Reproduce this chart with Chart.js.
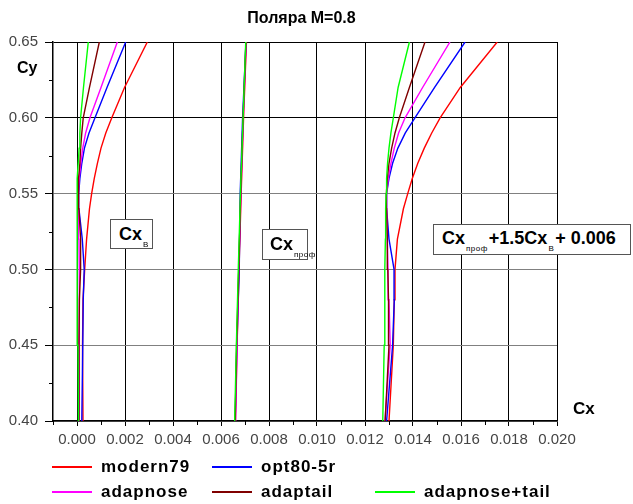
<!DOCTYPE html>
<html>
<head>
<meta charset="utf-8">
<script src="https://cdn.jsdelivr.net/npm/chart.js@4.4.1/dist/chart.umd.min.js"></script>
<style>
    body { margin: 0; background: #fff; }
    #wrap { position: relative; width: 633px; height: 504px; font-family: "Liberation Sans", Arial, sans-serif; }
    #statChart { position: absolute; left: 0; top: 0; }
    .lbl { position: absolute; font-weight: bold; color: #000; white-space: nowrap; }
    .box { position: absolute; background: #fff; border: 1px solid #555; font-weight: bold; font-size: 18px; white-space: nowrap; box-sizing: border-box; }
    .box .sub { font-weight: normal; font-size: 8px; position: relative; top: 7px; letter-spacing: 0.5px; margin: 0 1px; }
    #legend { position: absolute; left: 52px; top: 456px; display: grid; grid-template-columns: 160px 163px auto; row-gap: 3px; }
    .item { display: flex; align-items: center; height: 22px; font-weight: bold; font-size: 17px; letter-spacing: 1px; }
    .item .ln { width: 40px; height: 2px; margin-right: 9px; }
</style>
</head>
<body>
<div id="wrap">
    <canvas id="statChart" width="633" height="504"></canvas>
    <div class="lbl" style="left:0;width:603px;top:9px;text-align:center;font-size:16px;">Поляра M=0.8</div>
    <div class="lbl" style="left:17px;top:59px;font-size:16px;">Cy</div>
    <div class="lbl" style="left:573px;top:399px;font-size:17px;">Cx</div>
    <div class="box" style="left:110px;top:219px;width:43px;height:30px;padding:4px 0 0 8px;">Cx<span class="sub">В</span></div>
    <div class="box" style="left:262px;top:229px;width:46px;height:31px;padding:4px 0 0 7px;">Cx<span class="sub">проф</span></div>
    <div class="box" style="left:433px;top:224px;width:198px;height:31px;padding:3px 0 0 8px;">Cx<span class="sub">проф</span>+1.5Cx<span class="sub">В</span>+ 0.006</div>
    <div id="legend"></div>
</div>
<script>
// Cy levels used for the curves
var cyLevels = [0.40, 0.45, 0.48, 0.50, 0.52, 0.54, 0.55, 0.56, 0.57, 0.58, 0.59, 0.60, 0.62, 0.65];
var cyProf = [0.40, 0.45, 0.50, 0.55, 0.60, 0.65];

var seriesNames = ['modern79', 'opt80-5r', 'adapnose', 'adaptail', 'adapnose+tail'];
var seriesColors = ['#ff0000', '#0000ff', '#ff00ff', '#800000', '#00ff00'];

// Cx_B
var cxB_modern79 = [0.00025, 0.00023, 0.00025, 0.00032, 0.00040, 0.00052, 0.00061, 0.00072, 0.00085, 0.00100, 0.00120, 0.00145, 0.00198, 0.00293];
var cxB_opt80 = [0.00020, 0.00024, 0.00026, 0.00030, 0.00022, 0.00008, 0.00007, 0.00012, 0.00020, 0.00031, 0.00050, 0.00075, 0.00125, 0.00203];
var cxB_adapnose = [0.00012, 0.00010, 0.00010, 0.00009, 0.00008, 0.00006, 0.00006, 0.00009, 0.00016, 0.00024, 0.00036, 0.00054, 0.00100, 0.00168];
var cxB_adaptail = [0.00008, 0.00008, 0.00010, 0.00015, 0.00015, 0.00008, 0.00005, 0.00008, 0.00012, 0.00015, 0.00020, 0.00026, 0.00052, 0.00093];
var cxB_adapnosetail = [0.00006, 0.00004, 0.00002, 0.00000, 0.00000, 0.00000, 0.00000, 0.00002, 0.00005, 0.00009, 0.00012, 0.00015, 0.00027, 0.00047];

// Cx_prof (at cyProf)
var cxProf_modern79 = [0.00660, 0.00667, 0.00675, 0.00684, 0.00694, 0.00706];
var cxProf_opt80 = [0.00659, 0.00666, 0.00676, 0.00680, 0.00690, 0.00704];
var cxProf_adapnose = [0.00661, 0.00667, 0.00674, 0.00683, 0.00693, 0.00705];
var cxProf_adaptail = [0.00659, 0.00665, 0.00674, 0.00682, 0.00692, 0.00704];
var cxProf_adapnosetail = [0.00657, 0.00664, 0.00672, 0.00681, 0.00692, 0.00703];

// Cx_prof + 1.5Cx_B + 0.006
var cxSum_modern79 = [0.01300, 0.01318, 0.01322, 0.01325, 0.01335, 0.01360, 0.01378, 0.01397, 0.01420, 0.01447, 0.01478, 0.01513, 0.01597, 0.01751];
var cxSum_opt80 = [0.01290, 0.01315, 0.01322, 0.01321, 0.01300, 0.01290, 0.01290, 0.01300, 0.01315, 0.01337, 0.01368, 0.01408, 0.01490, 0.01617];
var cxSum_adapnose = [0.01283, 0.01305, 0.01300, 0.01296, 0.01293, 0.01290, 0.01290, 0.01297, 0.01308, 0.01322, 0.01340, 0.01367, 0.01440, 0.01554];
var cxSum_adaptail = [0.01284, 0.01300, 0.01298, 0.01295, 0.01293, 0.01290, 0.01289, 0.01293, 0.01300, 0.01311, 0.01325, 0.01343, 0.01385, 0.01450];
var cxSum_adapnosetail = [0.01274, 0.01280, 0.01282, 0.01283, 0.01285, 0.01286, 0.01288, 0.01290, 0.01294, 0.01300, 0.01308, 0.01318, 0.01338, 0.01385];

var xTickLabels = ['0.000', '0.002', '0.004', '0.006', '0.008', '0.010', '0.012', '0.014', '0.016', '0.018', '0.020'];
var yTickLabels = ['0.40', '0.45', '0.50', '0.55', '0.60', '0.65'];

var groups = [
    [cxB_modern79, cxB_opt80, cxB_adapnose, cxB_adaptail, cxB_adapnosetail],
    [cxProf_modern79, cxProf_opt80, cxProf_adapnose, cxProf_adaptail, cxProf_adapnosetail],
    [cxSum_modern79, cxSum_opt80, cxSum_adapnose, cxSum_adaptail, cxSum_adapnosetail]
];
var groupCy = [cyLevels, cyProf, cyLevels];

function toPoints(xs, ys) {
    return xs.map(function (v, i) { return { x: v, y: ys[i] }; });
}

var datasets = [];
groups.forEach(function (grp, g) {
    grp.forEach(function (xs, s) {
        datasets.push({
            label: seriesNames[s],
            data: toPoints(xs, groupCy[g]),
            borderColor: seriesColors[s],
            backgroundColor: seriesColors[s],
            borderWidth: 1.4,
            pointRadius: 0,
            showLine: true,
            tension: 0,
            order: 5 - s
        });
    });
});

function isMajorX(v) { return xTickLabels.indexOf(v.toFixed(3)) >= 0 && v > -0.0005; }
function isMajorY(v) { return yTickLabels.indexOf(v.toFixed(2)) >= 0 && Math.abs(Math.round(v * 1000) % 50) === 0; }

// short minor ticks
var minorTicks = {
    id: 'minorTicks',
    afterDraw: function (chart) {
        var ctx = chart.ctx, xs = chart.scales.x, ys = chart.scales.y;
        ctx.save();
        ctx.strokeStyle = '#000';
        ctx.lineWidth = 1;
        xs.ticks.forEach(function (t) {
            if (isMajorX(t.value)) return;
            var px = Math.round(xs.getPixelForValue(t.value)) + 0.5;
            ctx.beginPath(); ctx.moveTo(px, ys.bottom); ctx.lineTo(px, ys.bottom + 4); ctx.stroke();
        });
        ys.ticks.forEach(function (t) {
            if (isMajorY(t.value)) return;
            var py = Math.round(ys.getPixelForValue(t.value)) + 0.5;
            ctx.beginPath(); ctx.moveTo(xs.left - 4, py); ctx.lineTo(xs.left, py); ctx.stroke();
        });
        ctx.restore();
    }
};

var mychart = document.getElementById('statChart').getContext('2d');
var chart = new Chart(mychart, {
    type: 'scatter',
    data: { datasets: datasets },
    options: {
        responsive: false,
        animation: false,
        layout: { padding: { left: 0, right: 76, top: 42, bottom: 0 } },
        plugins: { legend: { display: false }, tooltip: { enabled: false } },
        scales: {
            x: {
                type: 'linear',
                min: -0.001,
                max: 0.020,
                afterFit: function (scale) { scale.height = 83; },
                ticks: {
                    stepSize: 0.001,
                    autoSkip: false,
                    maxRotation: 0,
                    padding: 5,
                    color: '#444',
                    font: { family: 'Liberation Sans, Arial', size: 15 },
                    callback: function (v) { return isMajorX(v) ? v.toFixed(3) : ''; }
                },
                grid: {
                    color: function (c) { return c.tick && isMajorX(c.tick.value) ? '#000' : 'rgba(0,0,0,0)'; },
                    tickColor: function (c) { return c.tick && isMajorX(c.tick.value) ? '#000' : 'rgba(0,0,0,0)'; },
                    lineWidth: 1,
                    tickLength: 5
                },
                border: { color: '#000', width: 1.5 }
            },
            y: {
                type: 'linear',
                min: 0.40,
                max: 0.65,
                afterFit: function (scale) { scale.width = 53; },
                ticks: {
                    stepSize: 0.025,
                    autoSkip: false,
                    padding: 7,
                    color: '#444',
                    font: { family: 'Liberation Sans, Arial', size: 15 },
                    callback: function (v) { return isMajorY(v) ? v.toFixed(2) : ''; }
                },
                grid: {
                    color: function (c) {
                        if (!c.tick || !isMajorY(c.tick.value)) return 'rgba(0,0,0,0)';
                        return c.tick.value > 0.575 ? '#000' : '#808080';
                    },
                    tickColor: function (c) { return c.tick && isMajorY(c.tick.value) ? '#000' : 'rgba(0,0,0,0)'; },
                    lineWidth: 1,
                    tickLength: 8
                },
                border: { color: '#000', width: 1.5 }
            }
        }
    },
    plugins: [minorTicks]
});

// legend
var legend = document.getElementById('legend');
var legendRows = [[0, 1, -1], [2, 3, 4]];
legendRows.forEach(function (row) {
    row.forEach(function (i) {
        var el = document.createElement('div');
        el.className = 'item';
        if (i >= 0) {
            el.innerHTML = '<span class="ln" style="background:' + seriesColors[i] + '"></span>' + seriesNames[i];
        }
        legend.appendChild(el);
    });
});
</script>
</body>
</html>
